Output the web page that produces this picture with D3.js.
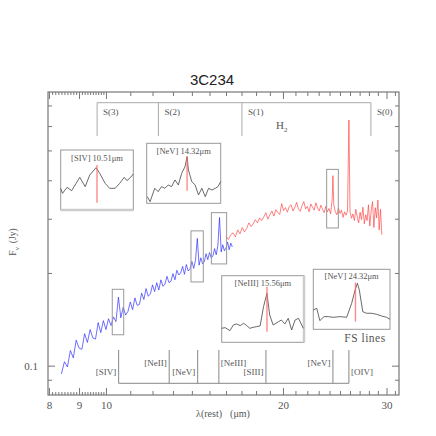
<!DOCTYPE html>
<html>
<head>
  <meta charset="utf-8">
  <title>3C234</title>
  <script src="https://cdn.jsdelivr.net/npm/d3@7"></script>
  <style>
    body { margin: 0; background: #fff; }
    text { font-family: "Liberation Serif", "DejaVu Serif", serif; fill: #555; }
  </style>
</head>
<body>
  <div id="container"></div>
  <script>
    // Spitzer IRS spectrum, short (blue) and long (red) modules
    const blueLam = [
      8.4, 8.5, 8.6, 8.7, 8.8, 8.9, 9.0, 9.1, 9.2, 9.3,
      9.4, 9.5, 9.6, 9.7, 9.8, 9.9, 10.0, 10.1, 10.2, 10.3,
      10.4, 10.5, 10.6, 10.7, 10.8, 10.9, 11.0, 11.1, 11.2, 11.3,
      11.4, 11.5, 11.6, 11.7, 11.8, 11.9, 12.0, 12.1, 12.2, 12.3,
      12.4, 12.5, 12.6, 12.7, 12.8, 12.9, 13.0, 13.1, 13.2, 13.3,
      13.4, 13.5, 13.6, 13.7, 13.8, 13.9, 14.0, 14.1, 14.2, 14.3,
      14.4, 14.5, 14.6, 14.7, 14.8, 14.9, 15.0, 15.1, 15.2, 15.3,
      15.4, 15.5, 15.6, 15.7, 15.8, 15.9, 16.0, 16.1, 16.2, 16.3,
      16.4
    ];
    const blueFlux = [
      0.094, 0.103, 0.099, 0.112, 0.106, 0.121, 0.114, 0.113, 0.127, 0.119,
      0.131, 0.123, 0.122, 0.138, 0.128, 0.140, 0.131, 0.142, 0.135, 0.144,
      0.139, 0.167, 0.143, 0.155, 0.146, 0.150, 0.161, 0.152, 0.166, 0.157,
      0.158, 0.172, 0.164, 0.178, 0.168, 0.171, 0.183, 0.174, 0.186, 0.176,
      0.190, 0.181, 0.184, 0.195, 0.186, 0.188, 0.199, 0.190, 0.204, 0.197,
      0.200, 0.210, 0.198, 0.213, 0.203, 0.206, 0.218, 0.207, 0.220, 0.259,
      0.212, 0.224, 0.214, 0.218, 0.231, 0.221, 0.233, 0.224, 0.227, 0.240,
      0.229, 0.246, 0.303, 0.234, 0.247, 0.236, 0.241, 0.252, 0.238, 0.250,
      0.243
    ];
    const redLam = [
      16.00, 16.15, 16.30, 16.45, 16.60, 16.75, 16.90, 17.05, 17.20, 17.35,
      17.50, 17.65, 17.80, 17.95, 18.10, 18.25, 18.40, 18.55, 18.70, 18.85,
      19.00, 19.15, 19.30, 19.45, 19.60, 19.75, 19.90, 20.05, 20.20, 20.35,
      20.50, 20.65, 20.80, 20.95, 21.10, 21.25, 21.40, 21.55, 21.70, 21.85,
      22.00, 22.15, 22.30, 22.45, 22.60, 22.75, 22.90, 23.05, 23.20, 23.35,
      23.50, 23.65, 23.80, 23.95, 24.10, 24.25, 24.32, 24.40, 24.55, 24.70,
      24.85, 25.00, 25.15, 25.30, 25.45, 25.60, 25.75, 25.89, 26.00, 26.15,
      26.30, 26.45, 26.60, 26.75, 26.90, 27.05, 27.20, 27.35, 27.50, 27.65,
      27.80, 27.95, 28.10, 28.25, 28.40, 28.55, 28.70, 28.85, 29.00, 29.15,
      29.30, 29.45
    ];
    const redFlux = [
      0.263, 0.257, 0.266, 0.270, 0.262, 0.276, 0.268, 0.281, 0.272, 0.279,
      0.291, 0.283, 0.289, 0.298, 0.291, 0.302, 0.296, 0.304, 0.314, 0.299,
      0.309, 0.318, 0.306, 0.321, 0.314, 0.310, 0.336, 0.319, 0.326, 0.315,
      0.329, 0.333, 0.318, 0.327, 0.339, 0.322, 0.317, 0.331, 0.341, 0.323,
      0.329, 0.316, 0.335, 0.327, 0.320, 0.338, 0.325, 0.318, 0.332, 0.322,
      0.314, 0.329, 0.316, 0.324, 0.311, 0.348, 0.414, 0.333, 0.316, 0.309,
      0.325, 0.312, 0.320, 0.303, 0.316, 0.308, 0.318, 0.628, 0.317, 0.301,
      0.311, 0.296, 0.322, 0.304, 0.291, 0.315, 0.298, 0.327, 0.289, 0.309,
      0.296, 0.333, 0.284, 0.319, 0.341, 0.281, 0.326, 0.302, 0.345, 0.276,
      0.322, 0.266
    ];

    // axis ticks
    const xMajorTicks = [8, 9, 10, 20, 30];
    const xFineTicks = [8.1, 8.2, 8.3, 8.4, 8.5, 8.6, 8.7, 8.8, 8.9,
      9.1, 9.2, 9.3, 9.4, 9.5, 9.6, 9.7, 9.8, 9.9];
    const xMinorTicks = [11, 12, 13, 14, 15, 16, 17, 18, 19,
      21, 22, 23, 24, 25, 26, 27, 28, 29, 31];
    const yMajorTicks = [0.1];
    const yMinorTicks = [0.09, 0.2, 0.3, 0.4, 0.5, 0.6, 0.7];

    // H2 rotational lines and fine-structure lines
    const h2Lam = [9.66, 12.28, 17.03, 28.22];
    const h2Names = ["S(3)", "S(2)", "S(1)", "S(0)"];
    const fsLam = [10.51, 12.81, 14.32, 15.56, 18.71, 24.32, 25.89];
    const fsNames = ["[SIV]", "[NeII]", "[NeV]", "[NeIII]", "[SIII]", "[NeV]", "[OIV]"];

    // boxes around the zoomed lines: [lam0, lam1, flux0, flux1]
    const zoomBoxes = [
      [10.25, 10.72, 0.126, 0.177],
      [13.95, 14.64, 0.187, 0.274],
      [15.11, 16.04, 0.214, 0.314],
      [23.73, 24.84, 0.280, 0.434]
    ];

    // inset line profiles (flux normalised to the inset height)
    const insetNames = ["[SIV]", "[NeV]", "[NeIII]", "[NeV]"];
    const insetLines = [10.51, 14.32, 15.56, 24.32];
    const insetLamRange = [[10.11, 10.91], [13.72, 14.82], [14.90, 16.10], [23.22, 25.22]];
    const insetMarker = [[0.122, 0.75], [0.211, 0.778], [0.16, 0.835], [0.128, 0.778]];
    const sivLam = [10.11, 10.13, 10.18, 10.23, 10.28, 10.32, 10.38, 10.43, 10.50, 10.54,
      10.60, 10.65, 10.71, 10.76, 10.81, 10.84, 10.88, 10.91];
    const sivFlux = [0.361, 0.278, 0.378, 0.322, 0.444, 0.544, 0.389, 0.583, 0.706, 0.611,
      0.444, 0.361, 0.361, 0.444, 0.544, 0.489, 0.544, 0.600];
    const nev14Lam = [13.73, 13.77, 13.84, 13.89, 13.94, 13.99, 14.04, 14.09, 14.14, 14.19,
      14.24, 14.29, 14.32, 14.34, 14.39, 14.44, 14.49, 14.54, 14.59, 14.64,
      14.69, 14.74, 14.78, 14.82];
    const nev14Flux = [0.111, 0.028, 0.250, 0.194, 0.278, 0.250, 0.306, 0.278, 0.389, 0.306,
      0.500, 0.611, 0.778, 0.556, 0.361, 0.306, 0.139, 0.250, 0.111, 0.250,
      0.222, 0.250, 0.278, 0.361];
    const ne3Lam = [14.90, 14.95, 15.02, 15.07, 15.12, 15.17, 15.22, 15.26, 15.31, 15.36,
      15.41, 15.46, 15.51, 15.56, 15.60, 15.65, 15.73, 15.77, 15.82, 15.87,
      15.92, 15.97, 16.02, 16.09];
    const ne3Flux = [0.210, 0.220, 0.175, 0.260, 0.275, 0.250, 0.285, 0.255, 0.210, 0.225,
      0.235, 0.245, 0.535, 0.735, 0.410, 0.260, 0.310, 0.335, 0.275, 0.360,
      0.185, 0.335, 0.360, 0.210];
    const nev24Lam = [23.22, 23.31, 23.39, 23.50, 23.61, 23.74, 23.92, 24.09, 24.22, 24.31,
      24.37, 24.42, 24.51, 24.61, 24.74, 24.87, 25.00, 25.13, 25.22];
    const nev24Flux = [0.322, 0.350, 0.144, 0.211, 0.211, 0.200, 0.211, 0.200, 0.433, 0.656,
      0.767, 0.656, 0.294, 0.267, 0.267, 0.250, 0.222, 0.200, 0.167];

    // ---- layout ----
    const width = 436, height = 436;
    const frame = { left: 48, right: 399, top: 92, bottom: 395 };
    const frameColor = "#777";

    const svg = d3.select("#container").append("svg")
      .attr("width", width)
      .attr("height", height);

    const x = d3.scaleLog().domain([7.97, 31.5]).range([frame.left, frame.right]);
    const y = d3.scaleLog().domain([0.0803, 0.774]).range([frame.bottom, frame.top]);

    // axes: ticks point inwards on all four sides
    function tickAxis(axisFn, pos, values, size, labels) {
      const ax = axisFn.tickValues(values).tickSize(-size)
        .tickFormat(labels ? (d => d) : "");
      const g = svg.append("g")
        .attr("transform", pos)
        .attr("color", frameColor)
        .call(ax);
      g.select(".domain").remove();
      g.selectAll("text")
        .attr("font-family", "Liberation Serif, DejaVu Serif, serif")
        .attr("font-size", 11)
        .style("fill", "#555");
      return g;
    }
    const bottomPos = `translate(0,${frame.bottom})`;
    const topPos = `translate(0,${frame.top})`;
    const leftPos = `translate(${frame.left},0)`;
    const rightPos = `translate(${frame.right},0)`;

    tickAxis(d3.axisBottom(x).tickPadding(6), bottomPos, xMajorTicks, 7, true);
    tickAxis(d3.axisBottom(x), bottomPos, xFineTicks, 3, false);
    tickAxis(d3.axisBottom(x), bottomPos, xMinorTicks, 4, false);
    tickAxis(d3.axisTop(x), topPos, xMajorTicks, 7, false);
    tickAxis(d3.axisTop(x), topPos, xFineTicks, 3, false);
    tickAxis(d3.axisTop(x), topPos, xMinorTicks, 4, false);
    tickAxis(d3.axisLeft(y).tickPadding(10), leftPos, yMajorTicks, 7, true);
    tickAxis(d3.axisLeft(y), leftPos, yMinorTicks, 4, false);
    tickAxis(d3.axisRight(y), rightPos, yMajorTicks, 7, false);
    tickAxis(d3.axisRight(y), rightPos, yMinorTicks, 4, false);

    svg.append("rect")
      .attr("x", frame.left).attr("y", frame.top)
      .attr("width", frame.right - frame.left)
      .attr("height", frame.bottom - frame.top)
      .attr("fill", "none")
      .attr("stroke", frameColor)
      .attr("stroke-width", 1.2);

    // title and axis labels
    svg.append("text")
      .attr("x", 212).attr("y", 85)
      .attr("text-anchor", "middle")
      .style("font-family", "Liberation Sans, Arial, sans-serif")
      .style("font-size", "15px")
      .style("fill", "#222")
      .text("3C234");

    const xLabel = svg.append("text")
      .attr("x", 223).attr("y", 417)
      .attr("text-anchor", "middle")
      .style("font-size", "10px");
    xLabel.append("tspan").text("λ(rest)");
    xLabel.append("tspan").attr("dx", 8).text("(μm)");

    const yLabel = svg.append("text")
      .attr("transform", "translate(16,242) rotate(-90)")
      .attr("text-anchor", "middle")
      .style("font-size", "9.5px");
    yLabel.append("tspan").text("F");
    yLabel.append("tspan").attr("dy", 2.5).style("font-size", "7px").text("ν");
    yLabel.append("tspan").attr("dy", -2.5).attr("dx", 4).text("(Jy)");

    // spectra
    const line = d3.line().x(d => x(d[0])).y(d => y(d[1]));
    svg.append("path")
      .datum(d3.zip(blueLam, blueFlux))
      .attr("d", line)
      .attr("fill", "none")
      .attr("stroke", "#2a2aff")
      .attr("stroke-opacity", 0.85)
      .attr("stroke-width", 0.8);
    svg.append("path")
      .datum(d3.zip(redLam, redFlux))
      .attr("d", line)
      .attr("fill", "none")
      .attr("stroke", "#ff3b3b")
      .attr("stroke-opacity", 0.8)
      .attr("stroke-width", 0.8);

    // boxes around zoomed lines
    svg.selectAll("rect.zoombox")
      .data(zoomBoxes)
      .join("rect")
      .attr("class", "zoombox")
      .attr("x", d => x(d[0]))
      .attr("y", d => y(d[3]))
      .attr("width", d => x(d[1]) - x(d[0]))
      .attr("height", d => y(d[2]) - y(d[3]))
      .attr("fill", "none")
      .attr("stroke", "#999")
      .attr("stroke-width", 1);

    // H2 bracket
    const h2Top = 102.7, h2Bottom = 136;
    svg.append("line")
      .attr("x1", x(h2Lam[0])).attr("x2", x(h2Lam[h2Lam.length - 1]))
      .attr("y1", h2Top).attr("y2", h2Top)
      .attr("stroke", "#aaa");
    svg.selectAll("line.h2")
      .data(h2Lam)
      .join("line")
      .attr("class", "h2")
      .attr("x1", d => x(d)).attr("x2", d => x(d))
      .attr("y1", h2Top).attr("y2", h2Bottom)
      .attr("stroke", "#aaa");
    svg.selectAll("text.h2")
      .data(h2Names)
      .join("text")
      .attr("class", "h2")
      .attr("x", (d, i) => x(h2Lam[i]) + 6)
      .attr("y", 115)
      .style("font-size", "9px")
      .text(d => d);
    const h2Label = svg.append("text")
      .attr("x", x(19.9)).attr("y", 129)
      .attr("text-anchor", "middle")
      .style("font-size", "11px");
    h2Label.append("tspan").text("H");
    h2Label.append("tspan").attr("dy", 2.5).style("font-size", "7px").text("2");

    // fine-structure line markers
    const fsTop = 350, fsBase = 383.3;
    const fsAnchor = ["end", "end", "end", "start", "end", "end", "start"];
    const fsRowY = [375, 366, 375, 366, 375, 366, 375];
    svg.append("line")
      .attr("x1", x(fsLam[0])).attr("x2", x(fsLam[fsLam.length - 1]))
      .attr("y1", fsBase).attr("y2", fsBase)
      .attr("stroke", "#888");
    svg.selectAll("line.fs")
      .data(fsLam)
      .join("line")
      .attr("class", "fs")
      .attr("x1", d => x(d)).attr("x2", d => x(d))
      .attr("y1", fsTop).attr("y2", fsBase)
      .attr("stroke", "#888");
    svg.selectAll("text.fs")
      .data(fsNames)
      .join("text")
      .attr("class", "fs")
      .attr("x", (d, i) => x(fsLam[i]) + (fsAnchor[i] === "end" ? -2.5 : 2))
      .attr("y", (d, i) => fsRowY[i])
      .attr("text-anchor", (d, i) => fsAnchor[i])
      .style("font-size", "9px")
      .text(d => d);

    // insets with line profiles
    const insetBoxes = [
      { x: 60.7, y: 150, w: 72.6, h: 60, ty: 10.5, shade: "bottom" },
      { x: 146.7, y: 143.3, w: 74, h: 60, ty: 10.7 },
      { x: 221.7, y: 275.7, w: 82.3, h: 66.6, ty: 10.3, shade: "right" },
      { x: 313.3, y: 269.3, w: 76.7, h: 60, ty: 10.2 }
    ];
    const insetData = [
      d3.zip(sivLam, sivFlux),
      d3.zip(nev14Lam, nev14Flux),
      d3.zip(ne3Lam, ne3Flux),
      d3.zip(nev24Lam, nev24Flux)
    ];

    insetBoxes.forEach((b, i) => {
      const g = svg.append("g").attr("transform", `translate(${b.x},${b.y})`);
      const ix = d3.scaleLinear().domain(insetLamRange[i]).range([0, b.w]);
      const iy = d3.scaleLinear().domain([0, 1]).range([b.h, 0]);

      g.append("rect")
        .attr("width", b.w).attr("height", b.h)
        .attr("fill", "#fff")
        .attr("stroke", "#999")
        .attr("stroke-width", 1);
      if (b.shade === "bottom") {
        g.append("line").attr("x1", 0).attr("x2", b.w).attr("y1", b.h).attr("y2", b.h)
          .attr("stroke", "#ccc").attr("stroke-width", 2.5);
      }
      if (b.shade === "right") {
        g.append("line").attr("x1", b.w).attr("x2", b.w).attr("y1", 0).attr("y2", b.h)
          .attr("stroke", "#ccc").attr("stroke-width", 2.5);
      }

      g.append("path")
        .datum(insetData[i])
        .attr("d", d3.line().x(d => ix(d[0])).y(d => iy(d[1])))
        .attr("fill", "none")
        .attr("stroke", "#444")
        .attr("stroke-width", 0.8);

      g.append("line")
        .attr("x1", ix(insetLines[i])).attr("x2", ix(insetLines[i]))
        .attr("y1", iy(insetMarker[i][0])).attr("y2", iy(insetMarker[i][1]))
        .attr("stroke", "#ff6b6b")
        .attr("stroke-opacity", 0.8)
        .attr("stroke-width", 1.4);

      g.append("text")
        .attr("x", b.w / 2).attr("y", b.ty)
        .attr("text-anchor", "middle")
        .style("font-size", "8.5px")
        .text(`${insetNames[i]} ${insetLines[i].toFixed(2)}μm`);
    });

    svg.append("text")
      .attr("x", 365).attr("y", 342)
      .attr("text-anchor", "middle")
      .style("font-size", "11.5px")
      .style("letter-spacing", "0.5px")
      .text("FS lines");
  </script>
</body>
</html>
